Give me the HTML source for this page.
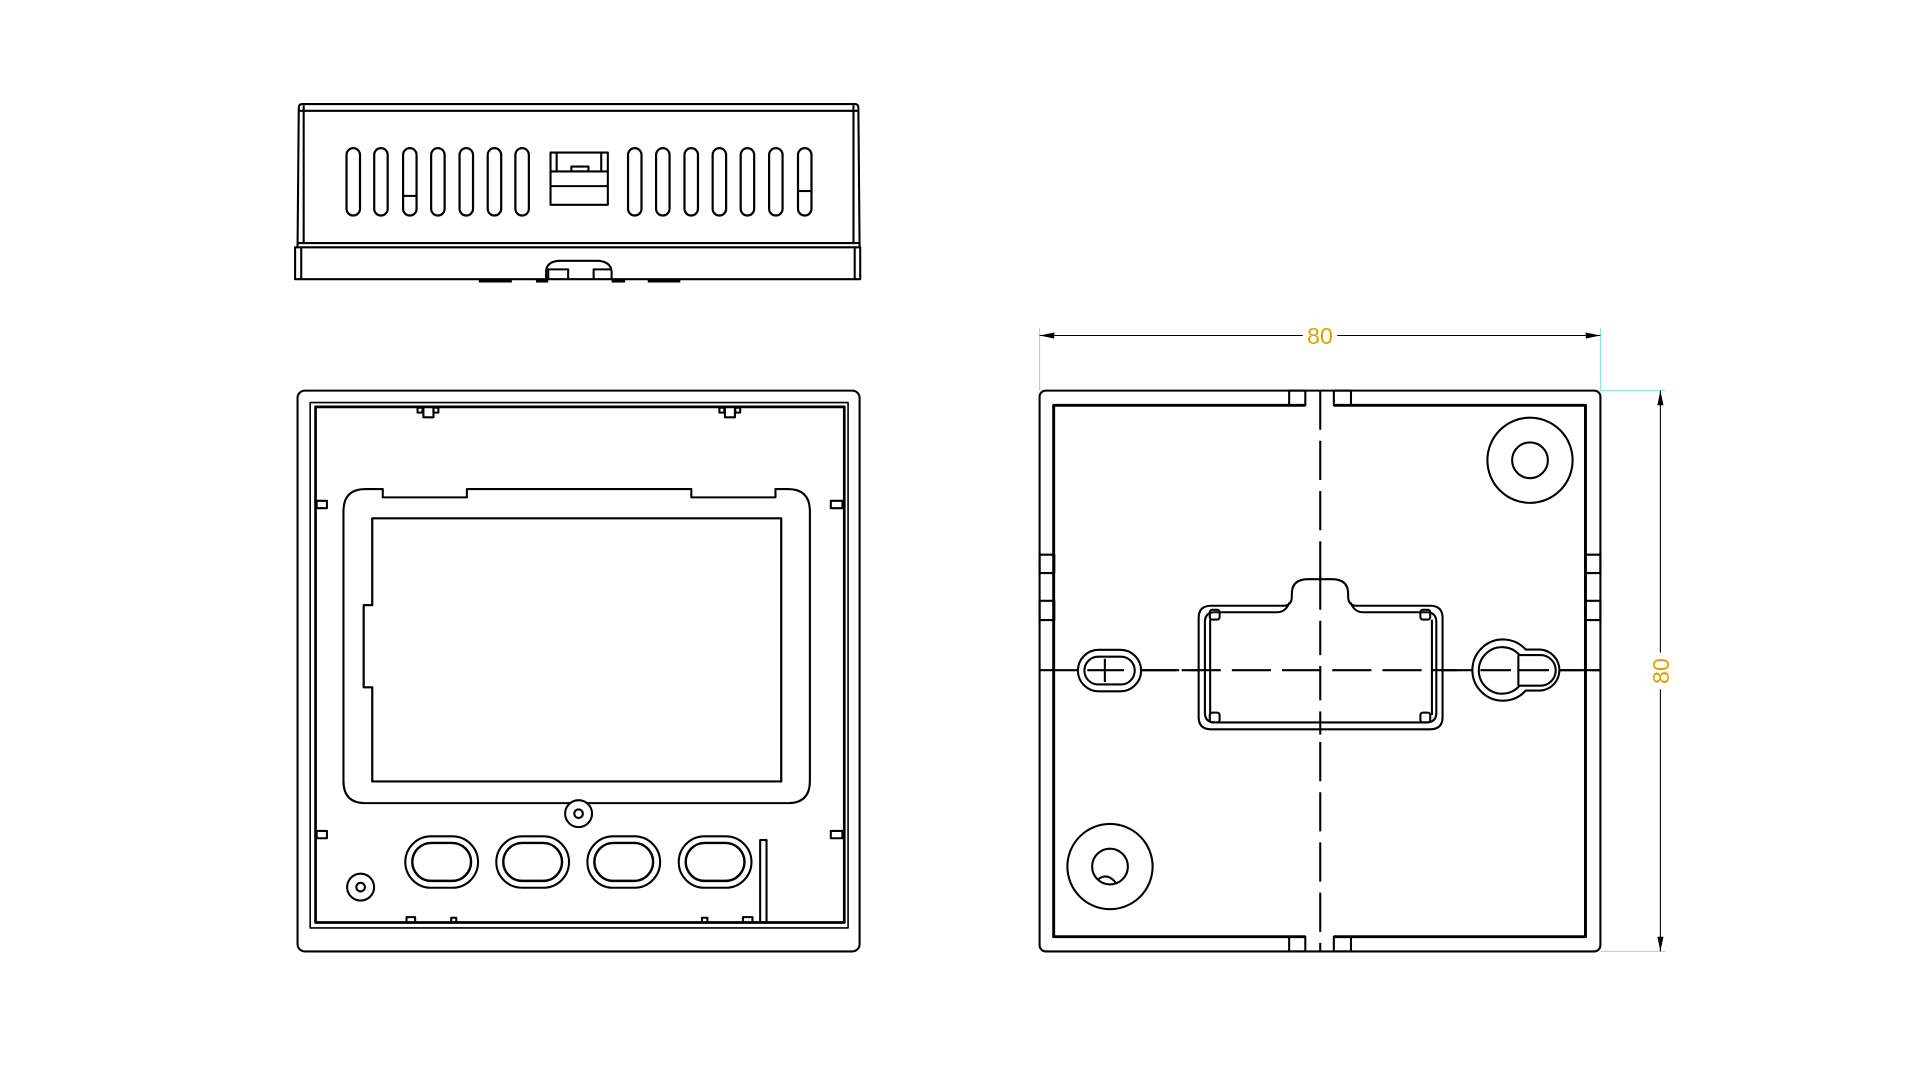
<!DOCTYPE html>
<html><head><meta charset="utf-8"><style>
html,body{margin:0;padding:0;background:#fff;width:1920px;height:1073px;overflow:hidden}
svg{display:block}
</style></head><body>
<svg width="1920" height="1073" viewBox="0 0 1568 876.3" preserveAspectRatio="none" xmlns="http://www.w3.org/2000/svg">
<g fill="none" stroke="#000" stroke-width="1.7" stroke-linejoin="round">
<!-- TOP VIEW -->
<path d="M243,202 L244,88 Q244,85 247,85 L698,85 Q701,85 701,88 L702,202"/>
<line x1="244" y1="90.5" x2="701" y2="90.5"/>
<line x1="248" y1="86" x2="248" y2="198"/>
<line x1="697" y1="86" x2="697" y2="198"/>
<line x1="243" y1="198.5" x2="702" y2="198.5"/>
<rect x="241" y="202" width="461.5" height="26"/>
<line x1="246" y1="202" x2="246" y2="228"/>
<line x1="698" y1="202" x2="698" y2="228"/>
<g stroke-width="1.8">
<rect x="283" y="121" width="11" height="55" rx="5.5"/>
<rect x="305.6" y="121" width="11" height="55" rx="5.5"/>
<rect x="329.2" y="121" width="11" height="55" rx="5.5"/>
<rect x="352.1" y="121" width="11" height="55" rx="5.5"/>
<rect x="375.3" y="121" width="11" height="55" rx="5.5"/>
<rect x="398.3" y="121" width="11" height="55" rx="5.5"/>
<rect x="420.9" y="121" width="11" height="55" rx="5.5"/>
<rect x="512.9" y="121" width="11" height="55" rx="5.5"/>
<rect x="535.8" y="121" width="11" height="55" rx="5.5"/>
<rect x="559" y="121" width="11" height="55" rx="5.5"/>
<rect x="582" y="121" width="11" height="55" rx="5.5"/>
<rect x="604.9" y="121" width="11" height="55" rx="5.5"/>
<rect x="628.1" y="121" width="11" height="55" rx="5.5"/>
<rect x="651.7" y="121" width="11" height="55" rx="5.5"/>
</g>
<line x1="651.7" y1="156" x2="662.7" y2="156"/>
<line x1="329.2" y1="160" x2="340.2" y2="160"/>
<rect x="449.6" y="124.6" width="46.8" height="42.7"/>
<line x1="454.6" y1="124.6" x2="454.6" y2="140"/>
<line x1="491" y1="124.6" x2="491" y2="140"/>
<line x1="449.6" y1="140" x2="496.4" y2="140"/>
<line x1="449.6" y1="152" x2="496.4" y2="152"/>
<rect x="466.6" y="136" width="14" height="4"/>
<path d="M446,228 L446,222 Q446,214 456,213 L489,213 Q499,214 499.5,222 L499.5,228"/>
<path d="M447.7,228 L447.7,220 L464,220 L464,228 M484.8,228 L484.8,220 L499.5,220"/>
<g stroke-width="2.5"><line x1="391" y1="229.5" x2="418" y2="229.5"/><line x1="437.7" y1="229.5" x2="447.7" y2="229.5"/><line x1="499.5" y1="229.5" x2="510.5" y2="229.5"/><line x1="529" y1="229.5" x2="555.6" y2="229.5"/></g>

<!-- FRONT VIEW -->
<rect x="243" y="319" width="459" height="458" rx="6"/>
<rect x="253.3" y="328.8" width="439.3" height="429" stroke-width="1.3"/>
<rect x="257.7" y="332.3" width="431.8" height="421.1" stroke-width="2.2"/>
<rect x="345.8" y="332.3" width="8.2" height="8.5"/><rect x="341" y="333" width="4" height="4"/><rect x="354" y="333" width="4" height="4"/>
<rect x="592" y="332.3" width="8.2" height="8.5"/><rect x="587.5" y="333" width="4" height="4"/><rect x="600.5" y="333" width="4" height="4"/>
<rect x="258.6" y="409" width="8.4" height="6"/><rect x="678.5" y="409" width="9.5" height="6"/>
<rect x="258.6" y="678.6" width="8.4" height="6"/><rect x="678.5" y="678.6" width="9.5" height="6"/>
<rect x="332" y="749" width="7" height="4.4"/><rect x="368.5" y="749.5" width="4.1" height="3.9"/>
<rect x="573.3" y="749.5" width="4.4" height="3.9"/><rect x="606.7" y="749" width="7.8" height="4.4"/>
<path d="M298.5,399.4 L312.6,399.4 L312.6,406.2 L381.3,406.2 L381.3,399.4 L564.6,399.4 L564.6,406.2 L633.3,406.2 L633.3,399.4 L643.4,399.4 Q661.4,399.4 661.4,417.4 L661.4,637.9 Q661.4,655.9 643.4,655.9 L298.5,655.9 Q280.5,655.9 280.5,637.9 L280.5,417.4 Q280.5,399.4 298.5,399.4 Z"/>
<path d="M304,423.3 L638,423.3 L638,638.2 L304,638.2 L304,561.3 L297,561.3 L297,494.2 L304,494.2 Z" stroke-width="1.8"/>
<circle cx="472.5" cy="664.5" r="11" fill="#fff"/><circle cx="472.5" cy="664.5" r="3.5"/>
<circle cx="294.5" cy="724.5" r="11"/><circle cx="294.5" cy="724.5" r="3.5"/>
<g>
<rect x="331" y="683" width="59.4" height="42" rx="21"/><rect x="336.7" y="688.4" width="48" height="31" rx="15.5" stroke-width="2"/>
<rect x="405.3" y="683" width="59.4" height="42" rx="21"/><rect x="411" y="688.4" width="48" height="31" rx="15.5" stroke-width="2"/>
<rect x="479.7" y="683" width="59.4" height="42" rx="21"/><rect x="485.4" y="688.4" width="48" height="31" rx="15.5" stroke-width="2"/>
<rect x="554.3" y="683" width="59.4" height="42" rx="21"/><rect x="560" y="688.4" width="48" height="31" rx="15.5" stroke-width="2"/>
</g>
<rect x="620.8" y="686" width="5.2" height="67.4"/>

<!-- RIGHT VIEW -->
<rect x="849" y="319" width="458" height="458" rx="5"/>
<path d="M1066,331 L860.5,331 L860.5,765 L1066,765 M1089.3,331 L1294.8,331 L1294.8,765 L1089.3,765" stroke-width="2.4"/>
<rect x="1052.8" y="319" width="13.2" height="12"/><rect x="1089.3" y="319" width="14" height="12"/>
<rect x="1052.8" y="765" width="13.2" height="12"/><rect x="1089.3" y="765" width="14" height="12"/>
<rect x="849" y="453" width="12" height="15"/><rect x="849" y="490.7" width="12" height="15.7"/>
<rect x="1294.8" y="453" width="12.2" height="15"/><rect x="1294.8" y="490.7" width="12.2" height="15.7"/>
<line x1="1078.2" y1="319" x2="1078.2" y2="777" stroke-dasharray="32,9"/>
<line x1="849" y1="547.3" x2="1307" y2="547.3" stroke-dasharray="32,9"/>
<circle cx="1249.5" cy="375.9" r="34.8"/><circle cx="1249.5" cy="375.9" r="14.6"/>
<circle cx="906.5" cy="707.7" r="34.8"/><circle cx="906.5" cy="707.7" r="14.6"/>
<path d="M897,718 Q905,712 912,722"/>
<rect x="880.3" y="530.7" width="51.6" height="33.9" rx="17" fill="#fff"/>
<rect x="885.6" y="536.3" width="41.1" height="22.7" rx="11.3"/>
<line x1="902.3" y1="538" x2="902.3" y2="557"/><line x1="888" y1="547.3" x2="918" y2="547.3"/>
<line x1="932" y1="547.3" x2="960" y2="547.3"/>
<path d="M1246,530.5 A25,25 0 1 0 1246,564 L1258,564 A16.8,16.8 0 0 0 1258,530.5 Z" fill="#fff"/>
<path d="M1241,535 A19,19 0 1 0 1241,560 L1258,560 A12.5,12.5 0 0 0 1258,535 Z"/>
<line x1="1209" y1="547.3" x2="1268" y2="547.3" stroke-dasharray="25,6"/>
<line x1="1274" y1="547.3" x2="1307" y2="547.3"/>
<line x1="1240" y1="535" x2="1240" y2="560"/>
<path d="M988.9,494.7 L1048,494.7 Q1055,494.7 1055,487 L1055,485 Q1055,473 1068,473 L1088,473 Q1101,473 1101,485 L1101,487 Q1101,494.7 1108,494.7 L1168.1,494.7 Q1178.1,494.7 1178.1,504.7 L1178.1,585.6 Q1178.1,595.6 1168.1,595.6 L988.9,595.6 Q978.9,595.6 978.9,585.6 L978.9,504.7 Q978.9,494.7 988.9,494.7 Z" fill="#fff"/>
<path d="M992,500 L1043,500 Q1050,500 1053,492 M1103,492 Q1106,500 1113,500 L1165,500 Q1173,500 1173,508 L1173,582 Q1173,590 1165,590 L992,590 Q984,590 984,582 L984,508 Q984,500 992,500"/>
<rect x="988" y="498" width="8" height="8" rx="2"/><rect x="1160" y="498" width="8" height="8" rx="2"/>
<rect x="988" y="582" width="8" height="8" rx="2"/><rect x="1160" y="582" width="8" height="8" rx="2"/>
<line x1="988.3" y1="506" x2="988.3" y2="584"/><line x1="1169.4" y1="506" x2="1169.4" y2="584"/>
<line x1="1078.2" y1="470" x2="1078.2" y2="600" stroke-dasharray="28,9"/>
<line x1="965" y1="547.3" x2="1190" y2="547.3" stroke-dasharray="32,9"/>
</g>
<!-- dimensions -->
<g stroke="#7fe0e8" stroke-width="0.8">
<line x1="849" y1="268" x2="849" y2="319"/><line x1="1307" y1="268" x2="1307" y2="319"/>
<line x1="1307" y1="319" x2="1360" y2="319"/><line x1="1307" y1="777" x2="1360" y2="777"/>
</g>
<g stroke="#000" stroke-width="0.9">
<line x1="849" y1="274" x2="1064" y2="274"/><line x1="1092" y1="274" x2="1307" y2="274"/>
<line x1="1356" y1="319" x2="1356" y2="533"/><line x1="1356" y1="563" x2="1356" y2="777"/>
</g>
<g fill="#000">
<path d="M849,274 L861,271.5 L861,276.5 Z"/><path d="M1307,274 L1295,271.5 L1295,276.5 Z"/>
<path d="M1356,319 L1353.5,331 L1358.5,331 Z"/><path d="M1356,777 L1353.5,765 L1358.5,765 Z"/>
</g>
<text x="1078" y="281" font-family="Liberation Sans, sans-serif" font-size="19" fill="#e0a000" text-anchor="middle">80</text>
<text x="0" y="0" font-family="Liberation Sans, sans-serif" font-size="19" fill="#e0a000" text-anchor="middle" transform="translate(1363,548) rotate(-90)">80</text>
</svg>
</body></html>
